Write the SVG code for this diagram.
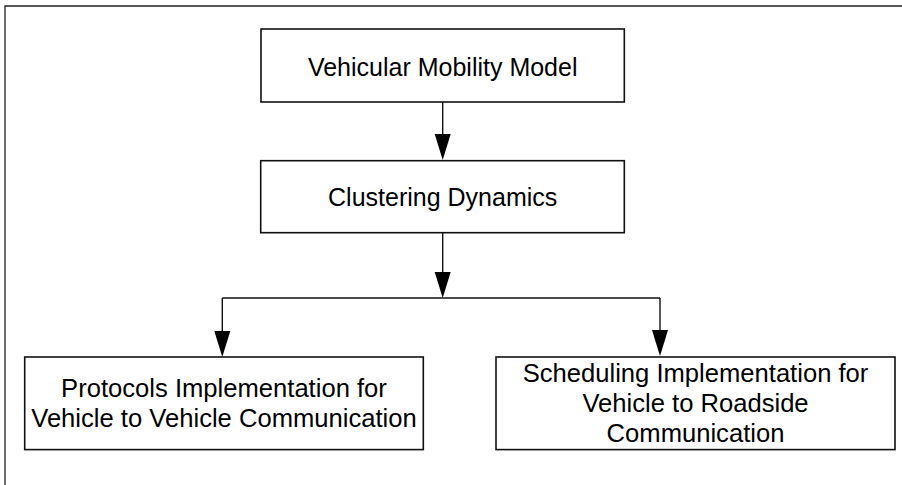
<svg xmlns="http://www.w3.org/2000/svg" width="902" height="485" viewBox="0 0 902 485">
<style>
  .box { fill: #ffffff; stroke: #111111; stroke-width: 1.6; }
  .frame { fill: none; stroke: #222222; stroke-width: 1.3; }
  .line { fill: none; stroke: #111111; stroke-width: 1.4; }
  .lbl { font-family: "Liberation Sans", Arial, sans-serif; font-size: 25px; fill: #000000; text-anchor: middle; }
  .lbl2 { font-family: "Liberation Sans", Arial, sans-serif; font-size: 25.6px; fill: #000000; text-anchor: middle; }
</style>
<rect width="902" height="485" fill="#ffffff"/>
<path class="frame" d="M5,485 L5,6 L902,6"/>
<g id="connectors">
  <path class="line" d="M442.7,102 L442.7,134" />
  <path d="M434.7,134 L450.7,134 L442.7,160 Z" fill="#000000"/>
  <path class="line" d="M442.7,232.7 L442.7,272" />
  <path d="M434.7,272 L450.7,272 L442.7,298 Z" fill="#000000"/>
  <path class="line" d="M222.3,298 L660,298" />
  <path class="line" d="M222.3,298 L222.3,332" />
  <path d="M214.3,331 L230.3,331 L222.3,357 Z" fill="#000000"/>
  <path class="line" d="M660,298 L660,330" />
  <path d="M652,330 L668,330 L660,356 Z" fill="#000000"/>
</g>
<g id="node-mobility">
  <rect class="box" x="261" y="29" width="363.3" height="73"/>
  <text class="lbl" x="442.7" y="75.5">Vehicular Mobility Model</text>
</g>
<g id="node-clustering">
  <rect class="box" x="260.7" y="160.7" width="363.6" height="72"/>
  <text class="lbl" x="442.7" y="206">Clustering Dynamics</text>
</g>
<g id="node-protocols">
  <rect class="box" x="24.7" y="357" width="398.6" height="92.6"/>
  <text class="lbl2" x="224" y="397">Protocols Implementation for</text>
  <text class="lbl2" x="224" y="427">Vehicle to Vehicle Communication</text>
</g>
<g id="node-scheduling">
  <rect class="box" x="496" y="357" width="399" height="92.6"/>
  <text class="lbl2" x="695.5" y="382">Scheduling Implementation for</text>
  <text class="lbl2" x="695.5" y="412">Vehicle to Roadside</text>
  <text class="lbl2" x="695.5" y="442">Communication</text>
</g>
</svg>
